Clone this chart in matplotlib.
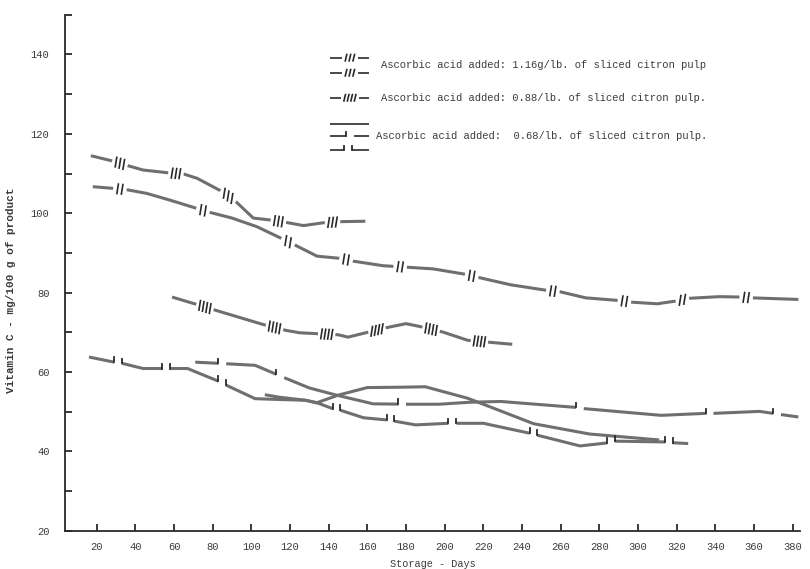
import numpy as np
import matplotlib
matplotlib.use("Agg")
import matplotlib.pyplot as plt

# ascorbic acid 1.16 g/lb, first curve ("iii" marks)
a_days = [17, 28, 36, 44, 57, 65, 72, 84, 91, 101, 110, 118, 127, 137, 147, 159]
a_vals = [114.5, 113.2, 112.0, 110.9, 110.2, 109.9, 108.8, 105.7, 103.4, 98.8,
          98.3, 97.7, 96.9, 97.6, 97.9, 98.0]
a_marks = [32, 61, 88, 114, 142]

# ascorbic acid 1.16 g/lb, second curve ("ii" marks)
b_days = [18, 28, 36, 46, 58, 72, 78, 90, 103, 115, 123, 134, 147, 152, 168, 181,
          194, 210, 217, 234, 254, 260, 273, 291, 297, 310, 321, 327, 342, 353, 359, 383]
b_vals = [106.7, 106.3, 105.9, 105.0, 103.3, 101.2, 100.3, 98.8, 96.6, 93.8, 91.9,
          89.2, 88.6, 88.0, 86.8, 86.4, 86.0, 84.7, 83.9, 82.0, 80.5, 80.2, 78.7,
          78.0, 77.6, 77.2, 78.0, 78.6, 79.0, 78.9, 78.7, 78.3]
b_marks = [32, 75, 119, 149, 177, 214, 256, 293, 323, 356]

# ascorbic acid 0.88/lb ("iiii" marks)
c_days = [59, 72, 82, 106, 118, 125, 145, 150, 160, 171, 180, 187, 199, 212, 235]
c_vals = [78.9, 77.0, 75.5, 72.0, 70.5, 69.9, 69.4, 68.8, 70.0, 71.3, 72.2, 71.5,
          70.1, 68.0, 67.0]
c_marks = [76, 112, 139, 165, 193, 218]

# ascorbic acid 0.68/lb, three curves
d_days = [16, 29, 34, 44, 54, 67, 84, 87, 102, 114, 128, 135, 142, 146, 158, 171,
          185, 202, 220, 244, 248, 270, 285, 288, 314, 318, 326]
d_vals = [63.8, 62.5, 62.1, 60.9, 60.9, 60.9, 57.5, 56.7, 53.3, 53.1, 52.9, 52.1,
          50.8, 50.4, 48.5, 47.9, 46.7, 47.1, 47.1, 44.6, 44.1, 41.4, 42.2, 42.6,
          42.4, 42.2, 42.0]
d_marks = [31, 56, 85, 144, 172, 204, 246, 286, 316]

e_days = [71, 87, 102, 117, 130, 144, 163, 182, 197, 213, 229, 268, 272, 312, 335,
          339, 363, 374, 383]
e_vals = [62.5, 62.1, 61.7, 58.6, 56.0, 54.2, 52.0, 51.9, 51.9, 52.4, 52.6, 51.1,
          50.8, 49.1, 49.6, 49.6, 50.1, 49.3, 48.7]
e_marks = [85, 115, 178, 270, 337, 372]

f_days = [107, 114, 128, 134, 145, 160, 179, 190, 212, 228, 246, 275, 311]
f_vals = [54.3, 53.7, 52.9, 52.3, 54.2, 56.1, 56.2, 56.3, 53.4, 50.4, 47.0, 44.4, 42.9]

x_ticks = list(range(20, 400, 20))
y_ticks = [20, 40, 60, 80, 100, 120, 140]

legend_labels = ["Ascorbic acid added: 1.16g/lb. of sliced citron pulp",
                 "Ascorbic acid added: 0.88/lb. of sliced citron pulp.",
                 "Ascorbic acid added:  0.68/lb. of sliced citron pulp."]

LINE = "#6f6f6f"
INK = "#2a2a2a"
TEXT = "#3c3c3c"
FONT = "Liberation Mono"


def draw_curve(ax, days, vals, marks=(), style="hash", n=3, gap=8, lw=2.2,
               color=LINE, tick_h=1.2):
    ax.plot(days, vals, color=color, lw=lw, solid_capstyle="butt", zorder=2)
    for m in marks:
        x0, x1 = m - gap / 2, m + gap / 2
        y0, y1 = np.interp(x0, days, vals), np.interp(x1, days, vals)
        ax.plot([x0, x1], [y0, y1], color="white", lw=lw + 1.6,
                solid_capstyle="butt", zorder=3)
        if style == "hash":
            xs = m + (np.arange(n) - (n - 1) / 2) * gap / (n + 1)
            for x in xs:
                y = np.interp(x, days, vals)
                ax.plot([x - 0.4, x + 0.4], [y - tick_h, y + tick_h], color=INK,
                        lw=1.2, zorder=4)
        else:
            ends = [x0, x1] if style == "hook2" else [x0]
            for x in ends:
                y = np.interp(x, days, vals)
                ax.plot([x, x], [y, y + tick_h], color=INK, lw=1.3, zorder=4)


fig = plt.figure(figsize=(8.1, 5.69), dpi=100)
ax = fig.add_axes([0.080, 0.067, 0.908, 0.907])

draw_curve(ax, a_days, a_vals, a_marks, "hash", 3, 8)
draw_curve(ax, b_days, b_vals, b_marks, "hash", 2, 7)
draw_curve(ax, c_days, c_vals, c_marks, "hash", 4, 9)
draw_curve(ax, d_days, d_vals, d_marks, "hook2", gap=4)
draw_curve(ax, e_days, e_vals, e_marks, "hook1", gap=4)
draw_curve(ax, f_days, f_vals)

# legend, drawn by hand like the original
lx = [140.5, 161.0]
draw_curve(ax, lx, [139.2, 139.2], [151], "hash", 3, 8, lw=1.2, color=INK, tick_h=0.8)
draw_curve(ax, lx, [135.4, 135.4], [151], "hash", 3, 8, lw=1.2, color=INK, tick_h=0.8)
draw_curve(ax, lx, [129.1, 129.1], [151], "hash", 4, 9, lw=1.2, color=INK, tick_h=0.8)
draw_curve(ax, lx, [122.6, 122.6], lw=1.2, color=INK)
draw_curve(ax, lx, [119.5, 119.5], [151], "hook1", gap=4, lw=1.2, color=INK, tick_h=1.0)
draw_curve(ax, lx, [115.9, 115.9], [150], "hook2", gap=4, lw=1.2, color=INK, tick_h=1.0)
ax.text(167, 137.3, legend_labels[0], fontsize=7.6, family=FONT, color=TEXT, va="center")
ax.text(167, 129.0, legend_labels[1], fontsize=7.6, family=FONT, color=TEXT, va="center")
ax.text(164.5, 119.5, legend_labels[2], fontsize=7.6, family=FONT, color=TEXT, va="center")

ax.set_xlim(3.5, 384)
ax.set_ylim(20, 150)
ax.set_xticks(x_ticks)
ax.set_yticks(y_ticks)
ax.set_yticks(range(30, 160, 20), minor=True)
ax.tick_params(direction="in", length=5, width=1.3, colors=INK, labelcolor=TEXT,
               labelsize=7.6)
ax.tick_params(axis="x", pad=8)
ax.tick_params(axis="y", pad=11)
ax.tick_params(which="minor", direction="in", length=5, width=1.3, colors=INK)
for lab in ax.get_xticklabels() + ax.get_yticklabels():
    lab.set_family(FONT)
for side in ["top", "right"]:
    ax.spines[side].set_visible(False)
for side in ["left", "bottom"]:
    ax.spines[side].set_linewidth(1.3)
    ax.spines[side].set_color(INK)

ax.set_xlabel("Storage - Days", fontsize=7.4, family=FONT, color=TEXT)
ax.xaxis.set_label_coords(0.5, -0.055)
ax.set_ylabel("Vitamin C - mg/100 g of product", fontsize=8, family=FONT,
              color=TEXT, fontweight="bold")
ax.yaxis.set_label_coords(-0.067, 0.467)

fig.savefig("out.png", dpi=100)
